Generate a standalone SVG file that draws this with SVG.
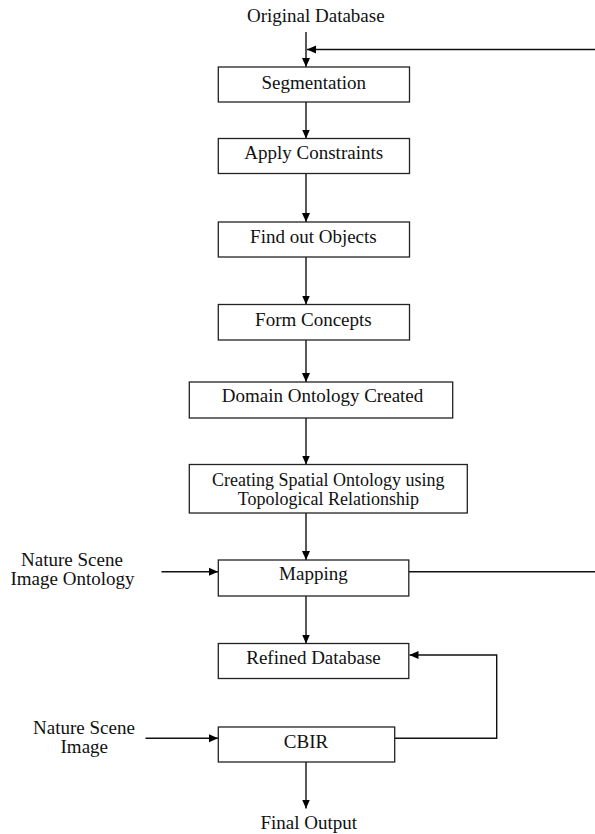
<svg xmlns="http://www.w3.org/2000/svg" width="595" height="834" viewBox="0 0 595 834">
<defs>
<marker id="ah" markerWidth="9" markerHeight="9" refX="9" refY="4.5" orient="auto" markerUnits="userSpaceOnUse">
<path d="M0,0.5 L9,4.5 L0,8.5 z" fill="#000"/>
</marker>
<style>
.box{fill:#fff;stroke:#222;stroke-width:1.3}
.t{font-family:"Liberation Serif","Times New Roman",serif;font-size:19px;fill:#111;text-anchor:middle}
.s{font-size:18px}
.c{fill:none;stroke:#111;stroke-width:1.4}
.a{marker-end:url(#ah)}
</style>
</defs>
<rect width="595" height="834" fill="#fff"/>
<g id="connectors">
<line class="c a" x1="306" y1="32" x2="306" y2="67"/>
<line class="c a" x1="595" y1="49.5" x2="307" y2="49.5"/>
<line class="c a" x1="306" y1="102" x2="306" y2="138.5"/>
<line class="c a" x1="306" y1="173.5" x2="306" y2="222"/>
<line class="c a" x1="306" y1="257" x2="306" y2="304.5"/>
<line class="c a" x1="306" y1="340" x2="306" y2="382"/>
<line class="c a" x1="306" y1="418" x2="306" y2="464.5"/>
<line class="c a" x1="306" y1="513" x2="306" y2="560"/>
<line class="c a" x1="161.5" y1="571.7" x2="218" y2="571.7"/>
<line class="c" x1="409" y1="571.7" x2="595" y2="571.7"/>
<line class="c a" x1="306" y1="596" x2="306" y2="643.5"/>
<path class="c a" d="M394.5,738.3 H496.7 V655 H409.5"/>
<line class="c a" x1="145.5" y1="738.3" x2="218" y2="738.3"/>
<line class="c a" x1="306" y1="762" x2="306" y2="808.5"/>
</g>
<g id="original-database"><text class="t" x="315.8" y="22">Original Database</text></g>
<g id="segmentation"><rect class="box" x="218.3" y="67" width="191.2" height="35"/><text class="t" x="313.8" y="89">Segmentation</text></g>
<g id="apply-constraints"><rect class="box" x="218.3" y="138.5" width="191.2" height="35"/><text class="t" x="313.7" y="159">Apply Constraints</text></g>
<g id="find-objects"><rect class="box" x="218.3" y="222" width="191.2" height="35"/><text class="t" x="313.4" y="242.5">Find out Objects</text></g>
<g id="form-concepts"><rect class="box" x="218.3" y="304.5" width="191.2" height="35.5"/><text class="t" x="313.4" y="325.5">Form Concepts</text></g>
<g id="domain-ontology"><rect class="box" x="189.3" y="382" width="263.4" height="36"/><text class="t" x="322.5" y="402">Domain Ontology Created</text></g>
<g id="spatial-ontology"><rect class="box" x="189.3" y="464.5" width="278" height="48.5"/><text class="t s" x="328.3" y="485.5">Creating Spatial Ontology using</text><text class="t s" x="328.3" y="505">Topological Relationship</text></g>
<g id="nature-scene-ontology"><text class="t" x="72" y="565.5">Nature Scene</text><text class="t" x="72.5" y="584.5">Image Ontology</text></g>
<g id="mapping"><rect class="box" x="218.3" y="560" width="190.5" height="36"/><text class="t" x="313.4" y="580">Mapping</text></g>
<g id="refined-database"><rect class="box" x="218.3" y="643.5" width="190.5" height="35"/><text class="t" x="313.5" y="664">Refined Database</text></g>
<g id="nature-scene-image"><text class="t" x="84" y="733.5">Nature Scene</text><text class="t" x="84.3" y="753">Image</text></g>
<g id="cbir"><rect class="box" x="218.3" y="727" width="176.4" height="35"/><text class="t" x="306" y="747.5">CBIR</text></g>
<g id="final-output"><text class="t" x="308.7" y="828.5">Final Output</text></g>
</svg>
